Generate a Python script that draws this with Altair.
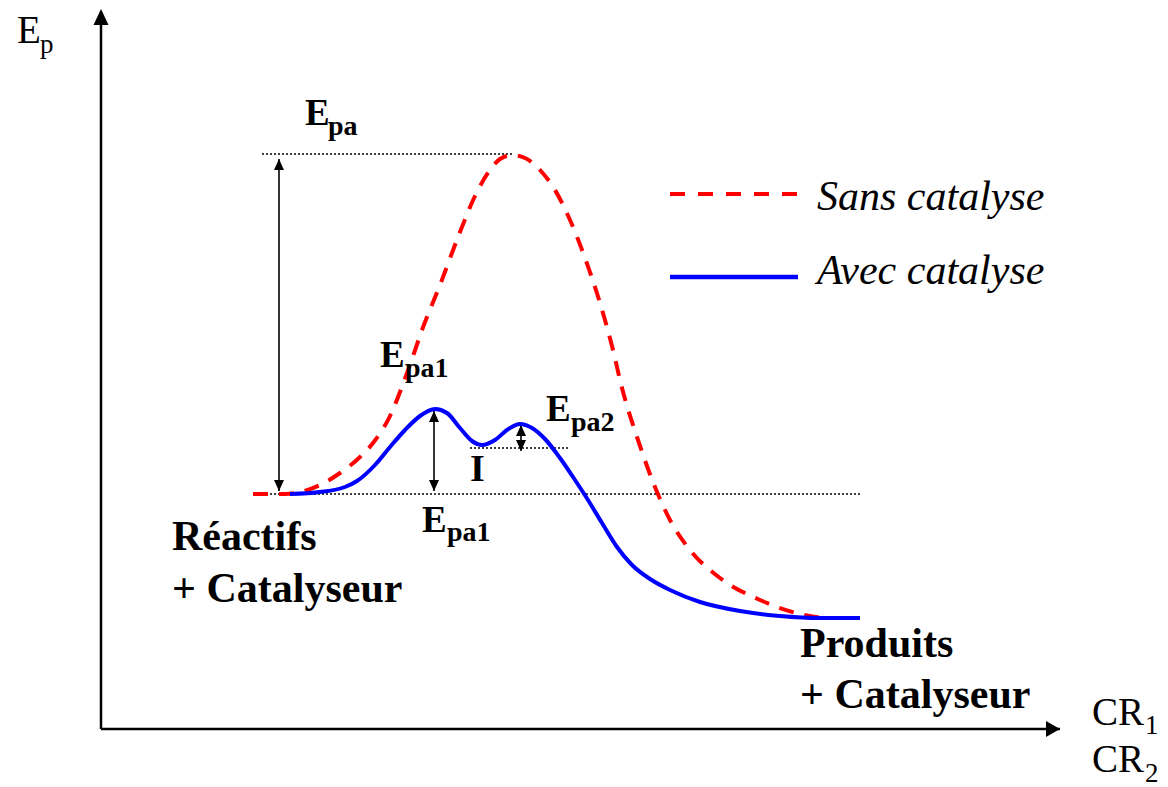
import altair as alt
import pandas as pd

# Reaction coordinate (arbitrary units, y-axis at 0) and potential energy
# (arbitrary units, reactants level = 0)
red_x = [152, 184, 199, 219, 239, 259, 272, 289, 302, 310, 321, 339, 359, 374, 389, 399, 411,
         424, 439, 454, 469, 484, 499, 511, 521, 537, 554, 569, 589, 619, 659, 699, 729]
red_E = [0, 0, 2, 9, 21, 37, 51, 78, 110, 132, 164, 209, 262, 298, 324, 335, 339,
         336, 324, 304, 274, 236, 191, 148, 106, 54, 7, -26, -56, -84, -106, -120, -125]

blue_x = [189, 219, 244, 256, 274, 289, 304, 319, 334, 346, 359, 371, 381, 394, 406, 419, 431,
          444, 459, 472, 487, 501, 516, 531, 549, 569, 599, 639, 679, 719, 759]
blue_E = [0, 2, 7, 13, 29, 47, 64, 78, 85, 81, 66, 53, 49, 54, 64, 70, 66,
          55, 36, 17, -6, -29, -53, -71, -85, -96, -108, -117, -122, -124, -124]

# dotted reference levels
level_E = [340, 0, 46]
level_x1 = [161, 161, 369]
level_x2 = [411, 761, 467]

# double arrows (energy differences)
arrow_x = [178, 333, 420]
arrow_top = [335, 83, 69]
arrow_bottom = [3, 3, 43]

# axes
axis_x0, axis_E0 = 0, -235
axis_x_end, axis_E_end = 959, 485

# legend
legend_x1, legend_x2 = 569, 697
legend_E = [300, 217]
legend_labels = ["Sans catalyse", "Avec catalyse"]
legend_label_x = 716
legend_label_E = [284, 210]

# labels
big_bold_text = ["Réactifs", "+ Catalyseur", "Produits", "+ Catalyseur"]
big_bold_x = [71, 71, 699, 699]
big_bold_E = [-56, -108, -163, -214]

e_bold_text = ["E", "E", "E", "E"]
e_bold_x = [204, 279, 321, 445]
e_bold_E = [369, 127, -38, 73]

i_text = ["I"]
i_x = [369]
i_E = [13]

sub_bold_text = ["pa", "pa1", "pa2", "pa1"]
sub_bold_x = [227, 304, 470, 346]
sub_bold_E = [359, 117, 63, -47]

reg_text = ["E", "CR", "CR"]
reg_x = [-84, 991, 991]
reg_E = [451, -231, -278]

sub_reg_text = ["p", "1", "2"]
sub_reg_x = [-61, 1044, 1044]
sub_reg_E = [441, -240, -288]

FONT = "Liberation Serif, Times New Roman, serif"
XS = alt.Scale(domain=[-93, 1059], nice=False, zero=False)
YS = alt.Scale(domain=[-293, 486], nice=False, zero=False)


def X(f):
    return alt.X(f, type="quantitative", scale=XS, axis=None)


def Y(f):
    return alt.Y(f, type="quantitative", scale=YS, axis=None)


red_df = pd.DataFrame({"x": red_x, "E": red_E})
blue_df = pd.DataFrame({"x": blue_x, "E": blue_E})

red_line = alt.Chart(red_df).mark_line(
    color="#ff0000", strokeWidth=4, strokeDash=[15, 11], interpolate="monotone"
).encode(x=X("x"), y=Y("E"), order="x:Q")

blue_line = alt.Chart(blue_df).mark_line(
    color="#0000ff", strokeWidth=4, interpolate="monotone"
).encode(x=X("x"), y=Y("E"), order="x:Q")

levels = alt.Chart(pd.DataFrame({"x1": level_x1, "x2": level_x2, "E": level_E})).mark_rule(
    color="black", strokeWidth=1.5, strokeDash=[2, 2]
).encode(x=X("x1"), x2=alt.X2("x2"), y=Y("E"))

arr_df = pd.DataFrame({"x": arrow_x, "top": arrow_top, "bottom": arrow_bottom})
arrows = alt.Chart(arr_df).mark_rule(color="black", strokeWidth=1.6).encode(
    x=X("x"), y=Y("top"), y2=alt.Y2("bottom"))
heads_up = alt.Chart(arr_df).mark_point(
    shape="M0,0L-1,2.2L1,2.2Z", filled=True, size=100, color="black", opacity=1, strokeWidth=0
).encode(x=X("x"), y=Y("top"))
heads_down = alt.Chart(arr_df).mark_point(
    shape="M0,0L-1,-2.2L1,-2.2Z", filled=True, size=100, color="black", opacity=1, strokeWidth=0
).encode(x=X("x"), y=Y("bottom"))

axes_df = pd.DataFrame({
    "x1": [axis_x0, axis_x0], "x2": [axis_x0, axis_x_end],
    "E1": [axis_E0, axis_E0], "E2": [axis_E_end - 12, axis_E0]})
axes = alt.Chart(axes_df).mark_rule(color="black", strokeWidth=2.5).encode(
    x=X("x1"), x2=alt.X2("x2"), y=Y("E1"), y2=alt.Y2("E2"))
y_head = alt.Chart(pd.DataFrame({"x": [axis_x0], "E": [axis_E_end]})).mark_point(
    shape="M0,0L-0.75,1.6L0.75,1.6Z", filled=True, size=400, color="black", opacity=1, strokeWidth=0
).encode(x=X("x"), y=Y("E"))
x_head = alt.Chart(pd.DataFrame({"x": [axis_x_end], "E": [axis_E0]})).mark_point(
    shape="M0,0L-1.4,-0.8L-1.4,0.8Z", filled=True, size=400, color="black", opacity=1, strokeWidth=0
).encode(x=X("x"), y=Y("E"))

leg_df = pd.DataFrame({"x1": [legend_x1], "x2": [legend_x2]})
leg_red = alt.Chart(leg_df.assign(E=legend_E[0])).mark_rule(
    color="#ff0000", strokeWidth=4, strokeDash=[15, 13]
).encode(x=X("x1"), x2=alt.X2("x2"), y=Y("E"))
leg_blue = alt.Chart(leg_df.assign(E=legend_E[1])).mark_rule(
    color="#0000ff", strokeWidth=4.5
).encode(x=X("x1"), x2=alt.X2("x2"), y=Y("E"))


def text_layer(texts, xs, es, size, weight="normal", style="normal"):
    df = pd.DataFrame({"x": xs, "E": es, "t": texts})
    return alt.Chart(df).mark_text(
        font=FONT, fontSize=size, fontWeight=weight, fontStyle=style,
        align="left", baseline="alphabetic", color="black"
    ).encode(x=X("x"), y=Y("E"), text="t:N")


texts = [
    text_layer(big_bold_text, big_bold_x, big_bold_E, 42, "bold"),
    text_layer(e_bold_text, e_bold_x, e_bold_E, 37, "bold"),
    text_layer(i_text, i_x, i_E, 38, "bold"),
    text_layer(sub_bold_text, sub_bold_x, sub_bold_E, 28, "bold"),
    text_layer(reg_text, reg_x, reg_E, 39),
    text_layer(sub_reg_text, sub_reg_x, sub_reg_E, 27),
    text_layer(legend_labels, [legend_label_x] * 2, legend_label_E, 42, "normal", "italic"),
]

chart = alt.layer(
    axes, y_head, x_head, levels, arrows, heads_up, heads_down,
    red_line, blue_line, leg_red, leg_blue, *texts
).properties(
    width=1152, height=779, padding=0, autosize="none", background="white"
).configure_view(stroke=None)

chart.save("out.html", embed_options={"renderer": "svg", "actions": False})
